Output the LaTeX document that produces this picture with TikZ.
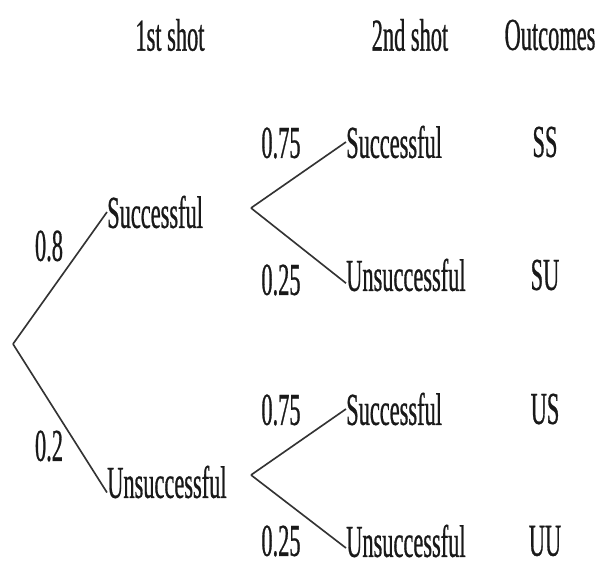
\documentclass[tikz,border=0pt]{standalone}
\usepackage{fontspec}
\setmainfont[FakeStretch=0.49,FakeBold=0.6]{Liberation Serif}
\usepackage{tikz}

\begin{document}
\begin{tikzpicture}[x=0.03cm,y=-0.03cm,
        every node/.style={font=\fontsize{39}{42}\selectfont,inner sep=0pt,text=black!90},
        branch/.style={line width=1.4pt,draw=black!80},
        choice/.style={anchor=west}]
		\useasboundingbox (0,0) rectangle (598,567);
		% headers
		\node (first) at (170,35) {1st shot};
		\node (second) at (410,35) {2nd shot};
		\node (outc) at (550,35) {Outcomes};
		% first shot
		\coordinate (root) at (13,344);
		\node[choice] (s1) at (107,212) {Successful};
		\node[choice] (u1) at (107,482) {Unsuccessful};
		\node (p1) at (49,246) {0.8};
		\node (p2) at (49,446) {0.2};
		\draw[branch] (root) -- (s1.west);
		\draw[branch] (root) -- ([yshift=-9pt]u1.west);
		% second shot
		\coordinate (f1) at (251,208);
		\coordinate (f2) at (251,475);
		\node[choice] (ss) at (346,142) {Successful};
		\node[choice] (su) at (346,275) {Unsuccessful};
		\node[choice] (us) at (346,409) {Successful};
		\node[choice] (uu) at (346,541) {Unsuccessful};
		\draw[branch] (f1) -- (ss.west);
		\draw[branch] (f1) -- ([yshift=-7pt]su.west);
		\draw[branch] (f2) -- (us.west);
		\draw[branch] (f2) -- ([yshift=-6pt]uu.west);
		\node (p3) at (281,143) {0.75};
		\node (p4) at (281,280) {0.25};
		\node (p5) at (281,410) {0.75};
		\node (p6) at (281,541) {0.25};
		% outcomes
		\node (oss) at (545,142) {SS};
		\node (osu) at (545,275) {SU};
		\node (ous) at (545,409) {US};
		\node (ouu) at (545,541) {UU};
\end{tikzpicture}
\end{document}
